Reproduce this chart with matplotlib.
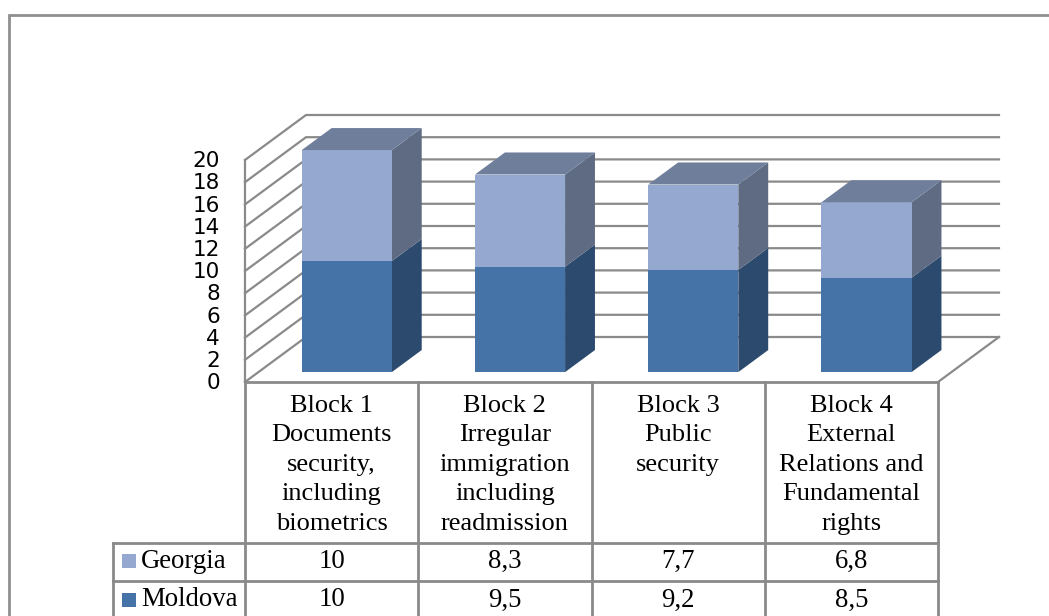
import matplotlib.pyplot as plt
from matplotlib.patches import Polygon, Rectangle

# data
categories = [
    "Block 1\nDocuments\nsecurity,\nincluding\nbiometrics",
    "Block 2\nIrregular\nimmigration\nincluding\nreadmission",
    "Block 3\nPublic\nsecurity",
    "Block 4\nExternal\nRelations and\nFundamental\nrights",
]
series_names = ["Georgia", "Moldova"]
georgia = [10, 8.3, 7.7, 6.8]
moldova = [10, 9.5, 9.2, 8.5]
y_ticks = list(range(0, 21, 2))

# colours: front, side, top
moldova_col = ("#4572A7", "#2C4A6E", "#3B5A83")
georgia_col = ("#95A9D0", "#5E6B83", "#6F7F9B")
grid_col = "#8a8a8a"

# layout in pixels
W, H = 1049, 616
X0_PX, CAT_PX = 245, 173.25      # left of front plane, width of one category
Y0_PX, UNIT_PX = 382, 11.1       # value 0 on front plane, pixels per unit
DEPTH_DX_PX, DEPTH_DY_PX = 61, 45

fig = plt.figure(figsize=(W / 100, H / 100), dpi=100)
ax = fig.add_axes([0, 0, 1, 1])
ax.set_xlim(-X0_PX / CAT_PX, (W - X0_PX) / CAT_PX)
ax.set_ylim(-(H - Y0_PX) / UNIT_PX, Y0_PX / UNIT_PX)
ax.axis("off")

DX = DEPTH_DX_PX / CAT_PX
DY = DEPTH_DY_PX / UNIT_PX


def proj(x, v, d):
    """category x, value v, depth d (0 front .. 1 back) -> data coords"""
    return (x + d * DX, v + d * DY)


def col_x(px):
    return (px - X0_PX) / CAT_PX


def row_y(py):
    return (Y0_PX - py) / UNIT_PX


n = len(categories)
ymax = max(y_ticks)

# walls: gridlines on side wall + back wall, tick labels
for v in y_ticks:
    xs, ys = zip(proj(0, v, 0), proj(0, v, 1), proj(n, v, 1))
    ax.plot(xs, ys, color=grid_col, lw=1.6, zorder=1)
    ax.text(col_x(220), v - 0.1, str(v), ha="right", va="center", fontsize=15.5,
            family="DejaVu Sans")
ax.plot([0, 0], [0, ymax], color=grid_col, lw=1.6, zorder=1)
xs, ys = zip(proj(n, 0, 0), proj(n, 0, 1))
ax.plot(xs, ys, color=grid_col, lw=1.6, zorder=1)

# 3d stacked bars
D0, D1 = 0.22, 0.71
BAR_W = 0.52
for i in range(n):
    x0 = i + 0.51 - BAR_W / 2
    x1 = x0 + BAR_W
    segs = [(0, moldova[i], moldova_col), (moldova[i], moldova[i] + georgia[i], georgia_col)]
    for k, (lo, hi, (c_front, c_side, c_top)) in enumerate(segs):
        front = [proj(x0, lo, D0), proj(x1, lo, D0), proj(x1, hi, D0), proj(x0, hi, D0)]
        side = [proj(x1, lo, D0), proj(x1, lo, D1), proj(x1, hi, D1), proj(x1, hi, D0)]
        ax.add_patch(Polygon(side, closed=True, fc=c_side, ec="none", zorder=3))
        ax.add_patch(Polygon(front, closed=True, fc=c_front, ec="none", zorder=3))
        if k == len(segs) - 1:
            top = [proj(x0, hi, D0), proj(x1, hi, D0), proj(x1, hi, D1), proj(x0, hi, D1)]
            ax.add_patch(Polygon(top, closed=True, fc=c_top, ec="none", zorder=3))

# data table
serif = "Liberation Serif"
head_bot, row1_bot, row2_bot, tbl_bot = 543, 581, 619, 640
leg_left = 113
lw_t = 2.0
ax.plot([0, n], [row_y(Y0_PX)] * 2, color=grid_col, lw=lw_t, zorder=4)
for py in (head_bot, row1_bot, row2_bot):
    ax.plot([col_x(leg_left), n], [row_y(py)] * 2, color=grid_col, lw=lw_t, zorder=4)
for j in range(n + 1):
    ax.plot([j, j], [row_y(Y0_PX), row_y(tbl_bot)], color=grid_col, lw=lw_t, zorder=4)
ax.plot([col_x(leg_left)] * 2, [row_y(head_bot), row_y(tbl_bot)], color=grid_col, lw=lw_t, zorder=4)

for i, label in enumerate(categories):
    ax.text(i + 0.5, row_y(395), label, ha="center", va="top", fontsize=19,
            family=serif, linespacing=1.44)

rows = [(series_names[0], georgia, georgia_col[0], 561),
        (series_names[1], moldova, moldova_col[0], 600)]
for name, vals, col, py in rows:
    ax.add_patch(Rectangle((col_x(122), row_y(py + 7)), col_x(136) - col_x(122),
                           14 / UNIT_PX, fc=col, ec="none", zorder=4))
    ax.text(col_x(141), row_y(py), name, ha="left", va="center", fontsize=19.3, family=serif)
    for i, v in enumerate(vals):
        ax.text(i + 0.5, row_y(py), f"{v:g}".replace(".", ","), ha="center",
                va="center", fontsize=19.3, family=serif)

# chart frame
fig.add_artist(Rectangle((9 / W, -0.1), 1.2, 1 - 15 / H + 0.1, transform=fig.transFigure,
                         fill=False, ec="#8f8f8f", lw=2))

fig.savefig("out.png", dpi=100)
